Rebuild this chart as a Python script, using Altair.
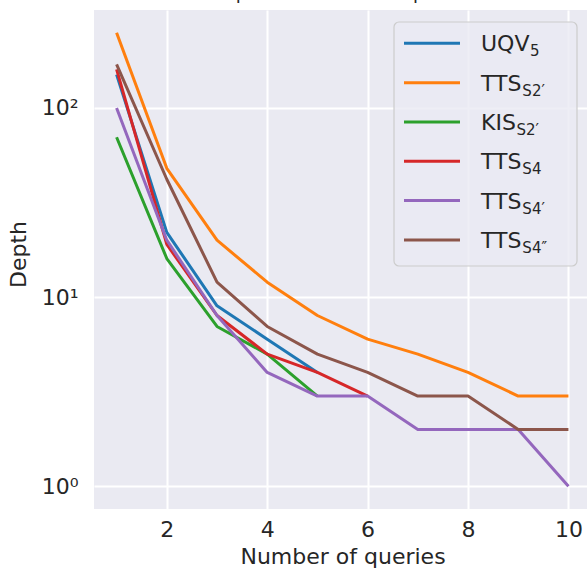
import altair as alt
import pandas as pd

# Depth reached after each number of queries, per method
queries = list(range(1, 11))
uqv5 = [150, 22, 9, 6, 4]
tts_s2p = [250, 48, 20, 12, 8, 6, 5, 4, 3, 3]
kis_s2p = [70, 16, 7, 5, 3]
tts_s4 = [160, 19, 8, 5, 4, 3]
tts_s4p = [100, 20, 8, 4, 3, 3, 2, 2, 2, 1]
tts_s4pp = [170, 42, 12, 7, 5, 4, 3, 3, 2, 2]

# Legend labels: base text plus subscript
base_labels = ["UQV", "TTS", "KIS", "TTS", "TTS", "TTS"]
sub_labels = ["5", "S2\u2032", "S2\u2032", "S4", "S4\u2032", "S4\u2033"]
series_keys = ["uqv5", "tts_s2p", "kis_s2p", "tts_s4", "tts_s4p", "tts_s4pp"]
series_values = [uqv5, tts_s2p, kis_s2p, tts_s4, tts_s4p, tts_s4pp]
colors = ["#1f77b4", "#ff7f0e", "#2ca02c", "#d62728", "#9467bd", "#8c564b"]

rows = []
for key, vals in zip(series_keys, series_values):
    for q, v in zip(queries, vals):
        rows.append({"series": key, "queries": q, "depth": v})
df = pd.DataFrame(rows)

FONT = "DejaVu Sans"
TEXT = "#262626"
W, H = 493, 499

x_enc = alt.X(
    "queries:Q",
    scale=alt.Scale(domain=[0.55, 10.37], nice=False, zero=False),
    axis=alt.Axis(
        values=[2, 4, 6, 8, 10], title="Number of queries",
        labelBaseline="alphabetic", labelPadding=27,
        titleX=248.5, titleY=54, titleBaseline="alphabetic", titleAnchor="middle",
    ),
)
y_enc = alt.Y(
    "depth:Q",
    scale=alt.Scale(type="log", domain=[0.759, 329.5], nice=False),
    axis=alt.Axis(
        values=[1, 10, 100], title="Depth",
        labelExpr="datum.value == 1 ? '10\u2070' : datum.value == 10 ? '10\u00b9' : '10\u00b2'",
        labelPadding=16, labelBaseline="middle",
        titleX=-64, titleY=244, titleBaseline="bottom",
    ),
)

lines = alt.Chart(df).mark_line(strokeWidth=3, strokeJoin="round", clip=True).encode(
    x=x_enc,
    y=y_enc,
    color=alt.Color("series:N", scale=alt.Scale(domain=series_keys, range=colors), legend=None),
)

one = alt.Data(values=[{"k": 0}])

# Title line sits above the plot area
title = alt.Chart(one).mark_text(
    text="Depth vs. number of queries", font=FONT, fontSize=18.5, color=TEXT,
    align="center", baseline="alphabetic",
).encode(x=alt.value(248.5), y=alt.value(-11))

# Legend frame
frame = alt.Chart(one).mark_rect(
    fill="#EAEAF2", fillOpacity=0.8, stroke="#CCCCCC", strokeWidth=1.2, cornerRadius=5,
).encode(x=alt.value(300), x2=alt.value(483), y=alt.value(12), y2=alt.value(256))

# Width of the base text, used to place the subscript after it
ADV = {"U": 0.732, "Q": 0.787, "V": 0.684, "T": 0.611, "S": 0.635, "K": 0.656, "I": 0.295}
BASE_SIZE, SUB_SIZE = 22, 15

legend_layers = []
for i, (base, sub, col) in enumerate(zip(base_labels, sub_labels, colors)):
    yy = 33.3 + i * 39.33
    tx = 387
    w = sum(ADV[c] for c in base) * BASE_SIZE
    legend_layers.append(
        alt.Chart(one).mark_rule(color=col, strokeWidth=3).encode(
            x=alt.value(310), x2=alt.value(366), y=alt.value(yy)
        )
    )
    legend_layers.append(
        alt.Chart(one).mark_text(
            text=base, font=FONT, fontSize=BASE_SIZE, color=TEXT, align="left", baseline="alphabetic"
        ).encode(x=alt.value(tx), y=alt.value(yy + 8))
    )
    legend_layers.append(
        alt.Chart(one).mark_text(
            text=sub, font=FONT, fontSize=SUB_SIZE, color=TEXT, align="left", baseline="alphabetic"
        ).encode(x=alt.value(tx + w + 0.5), y=alt.value(yy + 13))
    )

chart = alt.layer(lines, title, frame, *legend_layers).properties(
    width=W, height=H,
    autosize=alt.AutoSizeParams(type="none"),
    padding={"left": 94, "top": 10, "right": 0, "bottom": 63},
    background="white",
).configure_view(
    fill="#EAEAF2", stroke=None,
).configure_axis(
    grid=True, gridColor="white", gridWidth=2, gridOpacity=1,
    domain=False, ticks=False, tickSize=0,
    labelFont=FONT, labelFontSize=22, labelColor=TEXT,
    titleFont=FONT, titleFontSize=22, titleColor=TEXT, titleFontWeight="normal",
)

chart.save("out.html", embed_options={"renderer": "svg", "actions": False})
